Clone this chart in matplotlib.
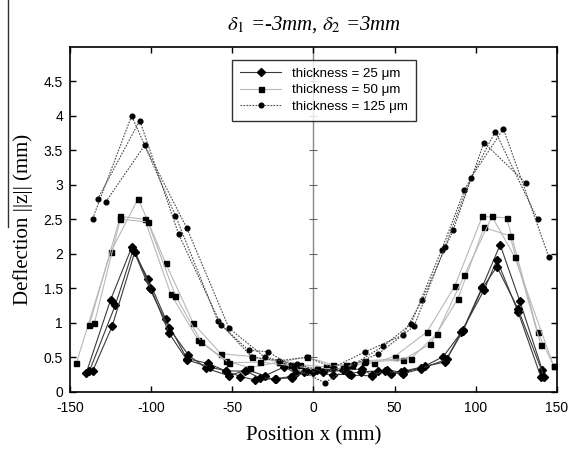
import matplotlib
matplotlib.use('Agg')
import matplotlib.pyplot as plt
from matplotlib.lines import Line2D
import numpy as np

plt.rcParams['mathtext.fontset'] = 'stix'
plt.rcParams['axes.unicode_minus'] = False

# thickness = 25 um, three runs
x25 = [[-140, -125, -112, -102, -91, -78, -65, -54, -45, -36, -23, -14, -6, 2, 12, 23, 36, 45, 54, 66, 80, 92, 104, 115, 127, 141],
       [-138, -122, -111, -101, -89, -77, -66, -52, -41, -30, -18, -11, 0, 12, 22, 29, 40, 48, 56, 69, 81, 91, 105, 113, 126, 140],
       [-136, -124, -110, -100, -89, -78, -64, -54, -42, -33, -24, -13, -4, 6, 18, 30, 36, 44, 55, 66, 82, 92, 104, 113, 126, 142]]
y25 = [[0.27, 1.33, 2.09, 1.64, 1.05, 0.48, 0.41, 0.30, 0.22, 0.17, 0.19, 0.22, 0.29, 0.32, 0.34, 0.24, 0.23, 0.32, 0.28, 0.34, 0.51, 0.89, 1.52, 2.13, 1.32, 0.31],
       [0.30, 1.26, 2.06, 1.50, 0.92, 0.53, 0.34, 0.23, 0.32, 0.23, 0.36, 0.27, 0.28, 0.24, 0.26, 0.29, 0.30, 0.25, 0.30, 0.37, 0.43, 0.86, 1.47, 1.91, 1.16, 0.22],
       [0.30, 0.95, 2.03, 1.49, 0.85, 0.46, 0.36, 0.30, 0.30, 0.20, 0.19, 0.20, 0.30, 0.28, 0.31, 0.33, 0.24, 0.30, 0.26, 0.33, 0.47, 0.88, 1.50, 1.81, 1.20, 0.22]]

# thickness = 50 um
x50 = [[-146, -125, -108, -91, -74, -57, -38, -21, -4, 12, 24, 37, 50, 70, 87, 104, 119, 138, 148],
       [-138, -119, -104, -88, -71, -54, -39, -21, -8, 8, 20, 31, 55, 72, 89, 105, 121, 140],
       [-135, -119, -102, -85, -69, -52, -33, -14, 2, 18, 32, 60, 76, 93, 110, 124, 148]]
y50 = [[0.42, 2.02, 2.80, 1.86, 0.99, 0.55, 0.51, 0.43, 0.50, 0.39, 0.39, 0.42, 0.51, 0.87, 1.53, 2.54, 2.52, 0.87, 0.37],
       [0.97, 2.54, 2.50, 1.42, 0.75, 0.44, 0.35, 0.43, 0.39, 0.36, 0.39, 0.43, 0.46, 0.69, 1.35, 2.38, 2.26, 0.68],
       [0.99, 2.50, 2.46, 1.39, 0.72, 0.42, 0.43, 0.38, 0.33, 0.34, 0.45, 0.48, 0.84, 1.69, 2.54, 1.95, 0.37]]

# thickness = 125 um
x125 = [[-136, -112, -85, -59, -38, -21, -4, 12, 32, 55, 67, 86, 105, 131],
        [-133, -107, -83, -57, -40, -28, -12, 7, 25, 43, 60, 79, 93, 112, 138],
        [-128, -104, -78, -52, -30, -10, 5, 20, 40, 62, 81, 97, 117, 145]]
y125 = [[2.51, 4.00, 2.55, 1.03, 0.50, 0.45, 0.50, 0.35, 0.58, 0.82, 1.33, 2.34, 3.61, 3.02],
        [2.79, 3.93, 2.28, 0.97, 0.60, 0.58, 0.35, 0.13, 0.40, 0.66, 0.98, 2.06, 2.92, 3.77, 2.50],
        [2.75, 3.57, 2.37, 0.92, 0.50, 0.40, 0.30, 0.35, 0.55, 0.95, 2.10, 3.10, 3.81, 1.95]]

labels = ['thickness = 25 \u03bcm', 'thickness = 50 \u03bcm', 'thickness = 125 \u03bcm']
xticks = [-150, -100, -50, 0, 50, 100, 150]
yticks = [0, 0.5, 1, 1.5, 2, 2.5, 3, 3.5, 4, 4.5]

fig = plt.figure(figsize=(5.68, 4.49), dpi=100)
ax = fig.add_axes([0.1232, 0.1276, 0.8574, 0.7684])

# centre line with its own ticks
ax.axvline(0, color='#888888', lw=1.0, zorder=1)
ax.plot([0] * len(yticks[1:]), yticks[1:], ls='none', marker='_', ms=6,
        mew=0.8, color='#666666', zorder=1)

styles = [
    dict(color='#3a3a3a', ls='-', lw=0.8, marker='D', ms=4.4, mfc='black', mec='black'),
    dict(color='#b8b8b8', ls='-', lw=0.8, marker='s', ms=3.6, mfc='black', mec='black'),
    dict(color='#4a4a4a', ls=(0, (1.5, 1.2)), lw=0.8, marker='o', ms=3.4, mfc='black', mec='black'),
]
for xs, ys, st, lab in zip([x25, x50, x125], [y25, y50, y125], styles, labels):
    for i in range(len(xs)):
        ax.plot(xs[i], ys[i], label=lab if i == 0 else None, zorder=3, **st)

ax.set_xlim(-150, 150)
ax.set_ylim(0, 5)
ax.set_xticks(xticks)
ax.set_yticks(yticks)
ax.set_yticklabels(['%g' % v for v in yticks])
ax.tick_params(direction='in', top=True, right=True, length=4, width=1,
               labelsize=10, pad=5)
ax.tick_params(axis='x', pad=7)
for lab in ax.get_xticklabels() + ax.get_yticklabels():
    lab.set_fontfamily('Liberation Sans')
for s in ax.spines.values():
    s.set_linewidth(1.2)

ax.set_xlabel('Position x (mm)', fontsize=15, family='Liberation Serif', labelpad=8)
ax.set_ylabel('Deflection ||z|| (mm)', fontsize=15, family='Liberation Serif', labelpad=8)
ax.set_title(r'$\delta_{\mathit{1}}$ =-3mm, $\delta_{\mathit{2}}$ =3mm', fontsize=15,
             family='Liberation Serif', style='italic', pad=12)

leg = ax.legend(loc='upper left', bbox_to_anchor=(0.333, 0.962), handlelength=3.1,
                prop={'family': 'Liberation Sans', 'size': 9.6},
                frameon=True, fancybox=False, borderpad=0.6, labelspacing=0.3,
                handletextpad=0.8, borderaxespad=0)
leg.get_frame().set_edgecolor('black')
leg.get_frame().set_linewidth(1.0)

# stray rule at the left edge of the scan
fig.add_artist(Line2D([8 / 568, 8 / 568], [1, 1 - 227 / 449], color='#333333', lw=1.0))

fig.savefig('out.png', dpi=100)
